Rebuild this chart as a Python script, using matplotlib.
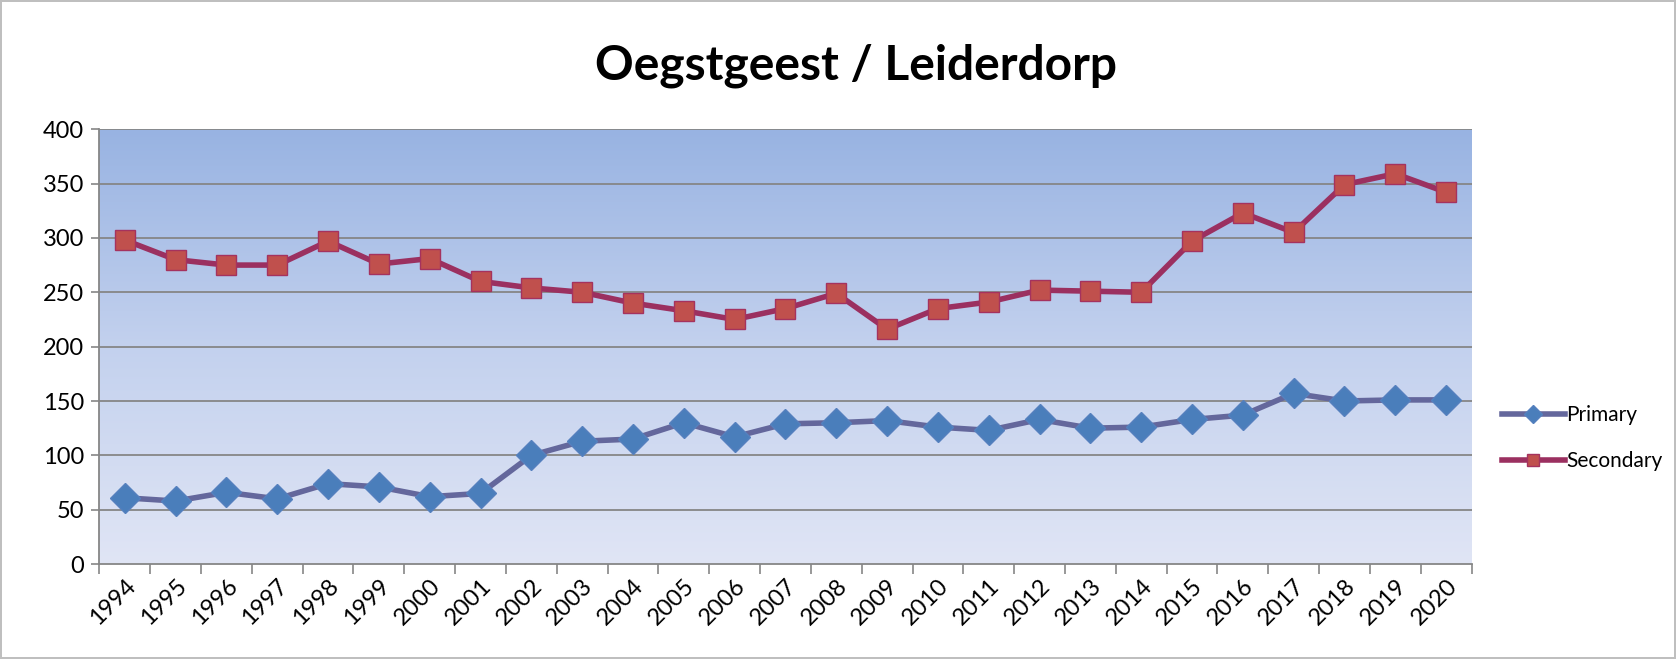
import numpy as np
import matplotlib
matplotlib.use("Agg")
import matplotlib.pyplot as plt
from matplotlib.colors import LinearSegmentedColormap

years = [str(y) for y in range(1994, 2021)]
primary = [61, 58, 66, 60, 74, 71, 62, 65, 100, 113, 115, 130, 117, 129, 130, 132,
           126, 123, 133, 125, 126, 133, 137, 157, 150, 151, 151]
secondary = [298, 280, 275, 275, 297, 276, 281, 260, 254, 250, 240, 233, 225, 235, 249, 216,
             235, 241, 252, 251, 250, 297, 323, 305, 349, 359, 342]
yticks = [0, 50, 100, 150, 200, 250, 300, 350, 400]
title = "Oegstgeest / Leiderdorp"

plt.rcParams['font.family'] = ['Lato', 'DejaVu Sans']

fig = plt.figure(figsize=(16.76, 6.59), dpi=100)
fig.patch.set_edgecolor('#BFBFBF')
fig.patch.set_linewidth(1.5)
ax = fig.add_axes([0.0593, 0.144, 0.8187, 0.660])

x = np.arange(len(years))
ax.set_xlim(-0.5, len(years) - 0.5)
ax.set_ylim(0, 400)

# gradient background
cmap = LinearSegmentedColormap.from_list('bg', ['#E0E5F5', '#C3D1EE', '#98B3E2'])
grad = np.linspace(0, 1, 256).reshape(-1, 1)
ax.imshow(grad, cmap=cmap, aspect='auto', origin='lower',
          extent=[-0.5, len(years) - 0.5, 0, 400], zorder=0)

for yv in yticks[1:]:
    ax.axhline(yv, color='#868686', lw=1.3, zorder=1)

ax.plot(x, primary, color='#64679C', lw=4, marker='D', markersize=15,
        markerfacecolor='#4A7EBB', markeredgecolor='#5580BE', markeredgewidth=1,
        label='Primary', zorder=3)
ax.plot(x, secondary, color='#9B3060', lw=4, marker='s', markersize=15,
        markerfacecolor='#C0504D', markeredgecolor='#A5325E', markeredgewidth=1,
        label='Secondary', zorder=3)

ax.set_yticks(yticks)
ax.set_yticklabels([str(v) for v in yticks], fontsize=17)
ax.set_xticks(x)
ax.set_xticklabels(years, rotation=45, ha='right', rotation_mode='anchor', fontsize=17)
ax.tick_params(axis='x', which='major', length=0, pad=8)
ax.set_xticks(np.arange(-0.5, len(years)), minor=True)
ax.tick_params(axis='x', which='minor', length=7, color='#868686', width=1.2)
ax.tick_params(axis='y', length=6, color='#868686', width=1.2, pad=5)

for s in ['top', 'right']:
    ax.spines[s].set_visible(False)
for s in ['left', 'bottom']:
    ax.spines[s].set_color('#868686')
    ax.spines[s].set_linewidth(1.3)

fig.text(0.511, 0.9, title, ha='center', va='center', fontsize=34.5, fontweight='bold')

leg = fig.legend(loc='center left', bbox_to_anchor=(0.885, 0.335), frameon=False,
                 fontsize=15, handlelength=3.0, labelspacing=1.25, handletextpad=0.1,
                 markerscale=0.6)

fig.savefig('out.png', dpi=100)
